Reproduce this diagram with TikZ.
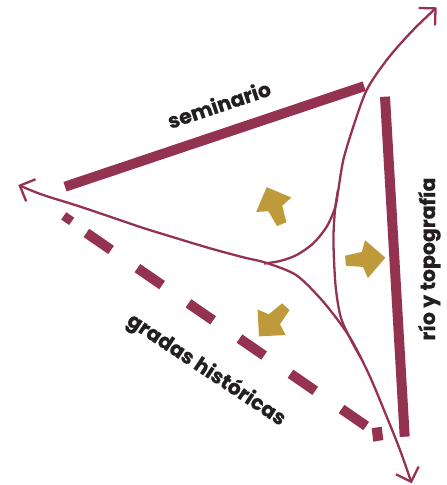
\documentclass[tikz,border=0pt]{standalone}
\usepackage{fontspec}
\setmainfont{Poppins}[BoldFeatures={FakeBold=0.6}]
\usetikzlibrary{arrows.meta}
\definecolor{maroon}{HTML}{943350}
\definecolor{gold}{HTML}{BE9A3B}
\definecolor{ink}{HTML}{231F20}
\tikzset{
  bar/.style={draw=maroon, line width=10pt},
  dashbar/.style={draw=maroon, line width=10pt, dash pattern=on 30pt off 32pt},
  flow/.style={draw=maroon, line width=2.3pt},
  barb/.tip={Straight Barb[length=12pt,width=24pt]},
  lab/.style={text=ink, font=\fontsize{20.5}{22}\selectfont\bfseries, inner sep=0pt},
  goldarrow/.pic={\fill[gold] (0,5)--(17,7.5)--(21,19)--(40,0)--(21,-19)--(17,-7.5)--(0,-5)--cycle;}
}
\begin{document}
\begin{tikzpicture}[x=1pt,y=1pt]
\useasboundingbox (0,0) rectangle (447,-485);
\fill[white] (0,0) rectangle (447,-485);

% bars
\coordinate (semA) at (65,-186.7);
\coordinate (semB) at (364.2,-86.2);
\draw[bar] (semA) -- (semB);
\coordinate (rioA) at (385,-96.7);
\coordinate (rioB) at (404.7,-436.7);
\draw[bar] (rioA) -- (rioB);

% dashed bar (gradas)
\fill[maroon] (61.2,-219.5) -- (66.3,-212.2) -- (74.2,-217.7) -- (69.1,-225.0) -- cycle;
\coordinate (graA) at (86.4,-232.9);
\coordinate (graB) at (366.2,-426);
\draw[dashbar] (graA) -- (graB);
\fill[maroon] (371.7,-428.3) -- (381.7,-426.7) -- (383.3,-440) -- (373.3,-441.7) -- cycle;

% flow curves
\draw[flow, barb-barb] plot[smooth] coordinates {(18.3,-185) (43.3,-195) (76.7,-205.5) (110,-216.7) (143.3,-228) (176.7,-238.3) (210,-248.3) (243.3,-257.3) (266.7,-263) (296,-275) (320,-298) (340,-323) (353.3,-343.3) (370,-376.7) (386.7,-416.7) (400,-450) (411.7,-483.3)};
\draw[flow, barb-] plot[smooth] coordinates {(436.7,-7.3) (410,-33.3) (386.7,-60) (366.7,-90) (353.3,-126.7) (343.3,-160) (338,-192) (335,-208) (326.7,-226.7) (313.3,-243.3) (296.7,-255) (280,-261) (264,-263.5)};
\draw[flow] plot[smooth] coordinates {(338,-190) (335,-210) (333.5,-235) (334,-260) (336,-290) (341,-318) (352,-342) (361,-358)};

% gold arrows
\pic[rotate=112.1] at (281.7,-224.2) {goldarrow};
\pic[rotate=4.3] at (345.5,-260.7) {goldarrow};
\pic[rotate=227.9] at (285.8,-306.7) {goldarrow};

% labels
\node[lab, anchor=base, rotate=18.5] (sem) at (221.5,-112) {seminario};
\node[lab, anchor=base, rotate=90] (rio) at (435,-259) {río y topografía};
\node[lab, anchor=base, rotate=-33.5] (gra) at (203,-375) {gradas históricas};
\end{tikzpicture}
\end{document}
